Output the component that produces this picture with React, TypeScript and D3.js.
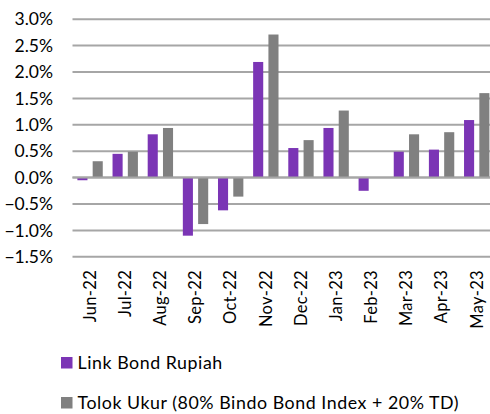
import * as d3 from "d3";

const months = ["Jun-22", "Jul-22", "Aug-22", "Sep-22", "Oct-22", "Nov-22", "Dec-22", "Jan-23", "Feb-23", "Mar-23", "Apr-23", "May-23"];
const linkBond = [-0.05, 0.45, 0.82, -1.1, -0.62, 2.19, 0.56, 0.94, -0.25, 0.49, 0.53, 1.09];
const tolokUkur = [0.31, 0.49, 0.94, -0.88, -0.36, 2.71, 0.71, 1.27, 0.0, 0.82, 0.86, 1.6];
const yTicks = [-1.5, -1.0, -0.5, 0, 0.5, 1.0, 1.5, 2.0, 2.5, 3.0];
const seriesNames = ["Link Bond Rupiah", "Tolok Ukur (80% Bindo Bond Index + 20% TD)"];

const width = 490;
const height = 414;
const plotLeft = 72.5;
const plotRight = 494.3;
const font = "Lato, 'Open Sans', sans-serif";
const purple = "#7B35B5";
const grey = "#808080";

export default function App() {
  const x = d3.scaleBand<string>().domain(months).range([plotLeft, plotRight]);
  const y = d3.scaleLinear().domain([-1.5, 3.0]).range([256.8, 19.2]);
  const inner = d3.scaleBand<number>().domain([0, 1]).range([0, x.bandwidth()]).paddingInner(0.34).paddingOuter(0.32);
  const series = [linkBond, tolokUkur];
  const colors = [purple, grey];

  return (
    <svg width={width} height={height} style={{ position: "absolute", left: 0, top: 0 }} fontFamily={font}>
      <rect width={width} height={height} fill="#fff" />
      {yTicks.map((t) => (
        <g key={t}>
          <line x1={plotLeft} x2={width} y1={y(t)} y2={y(t)} stroke="#A6A6A6" strokeWidth={2} />
          <text x={53} y={y(t)} dy="0.35em" textAnchor="end" fontSize={17.5} fill="#000">
            {d3.format(".1f")(t) + "%"}
          </text>
        </g>
      ))}
      {series.map((vals, si) =>
        vals.map((v, i) => {
          const bx = x(months[i])! + inner(si)!;
          return (
            <rect
              key={si + "-" + i}
              x={bx}
              y={Math.min(y(v), y(0))}
              width={inner.bandwidth()}
              height={Math.abs(y(v) - y(0))}
              fill={colors[si]}
            />
          );
        })
      )}
      <line x1={plotLeft} x2={width} y1={y(0)} y2={y(0)} stroke="#A6A6A6" strokeWidth={2} />
      {months.map((m) => (
        <text
          key={m}
          transform={`translate(${x(m)! + x.bandwidth() / 2},270) rotate(-90)`}
          dy="0.35em"
          textAnchor="end"
          fontSize={16.5}
          letterSpacing={0.3}
          fill="#000"
        >
          {m}
        </text>
      ))}
      {seriesNames.map((name, i) => (
        <g key={name} transform={`translate(61,${357 + i * 40})`}>
          <rect width={11.5} height={11.5} fill={colors[i]} />
          <text x={16.5} y={11.5} fontSize={17.8} letterSpacing={0.55} fill="#000">
            {name}
          </text>
        </g>
      ))}
    </svg>
  );
}
